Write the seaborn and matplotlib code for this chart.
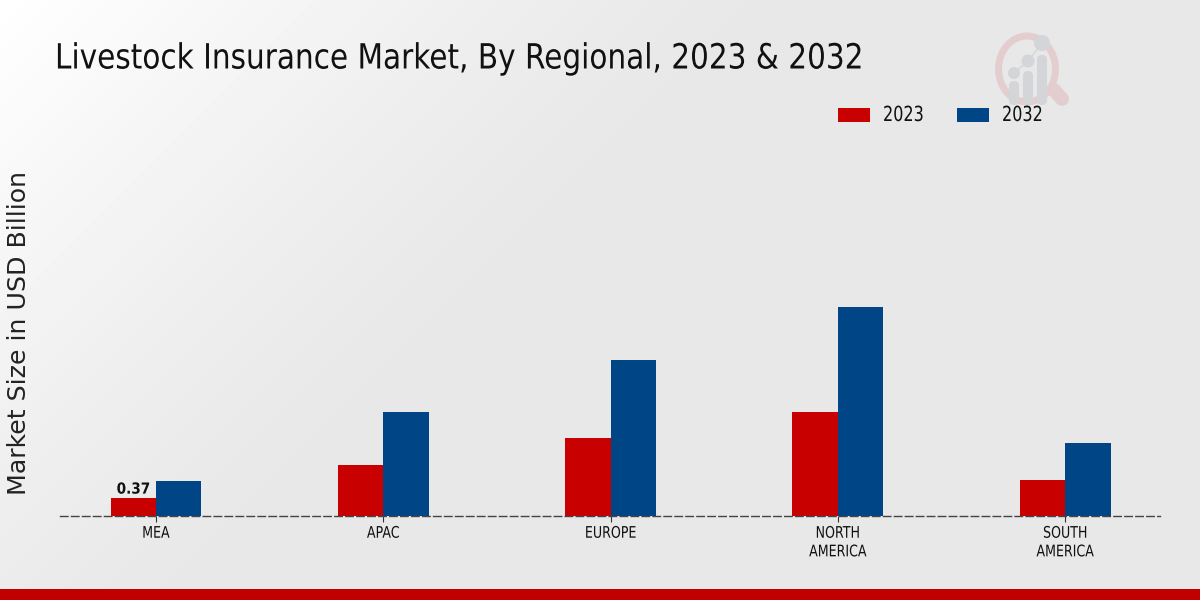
import matplotlib
matplotlib.use("Agg")
import matplotlib.pyplot as plt
from matplotlib.patches import Circle, Ellipse, FancyBboxPatch, Rectangle
from matplotlib.patheffects import AbstractPathEffect
from matplotlib.transforms import Affine2D
import numpy as np
import pandas as pd
import seaborn as sns

regioes = ["MEA", "APAC", "EUROPE", "NORTH\nAMERICA", "SOUTH\nAMERICA"]
valores_2023 = [0.37, 1.05, 1.60, 2.14, 0.74]
valores_2032 = [0.72, 2.14, 3.22, 4.30, 1.50]
anos = ["2023", "2032"]
cores = ["#C80000", "#004687"]

sns.set_style("white")
plt.rcParams["font.family"] = ["DejaVu Sans"]


# texto do original é comprimido na horizontal
class Aperta(AbstractPathEffect):
    def __init__(self, x0, fator):
        super().__init__()
        self.x0 = x0
        self.fator = fator

    def draw_path(self, renderer, gc, tpath, affine, rgbFace=None):
        ajuste = Affine2D().translate(-self.x0, 0).scale(self.fator, 1).translate(self.x0, 0)
        renderer.draw_path(gc, tpath, affine + ajuste, rgbFace)


dados = pd.DataFrame({
    "Regiao": regioes * 2,
    "Ano": [anos[0]] * 5 + [anos[1]] * 5,
    "Valor": valores_2023 + valores_2032,
})

fig = plt.figure(figsize=(12, 6), dpi=100)

# fundo com gradiente
fundo = fig.add_axes([0, 0, 1, 1], zorder=0)
yy, xx = np.mgrid[0:600, 0:1200]
dist = np.clip((xx + yy) / 750, 0, 1)
cinza = 0.91 + 0.09 * (1 - dist) ** 1.2
fundo.imshow(cinza, cmap="gray", vmin=0, vmax=1, aspect="auto",
             extent=(0, 1200, 600, 0))
fundo.add_patch(Rectangle((0, 589), 1200, 11, color="#C00000", lw=0))

# logo
fundo.add_patch(Ellipse((1027, 69), 57, 66, fill=False, ec="#E3CDCF", lw=5))
fundo.plot([1054, 1062], [90, 99], color="#E3CDCF", lw=10, solid_capstyle="round")
for cx, cy, r, topo in [(1014, 73, 6, 81), (1028, 61, 6.5, 71), (1042, 43, 8, 55)]:
    fundo.add_patch(FancyBboxPatch((cx - 5, topo), 10, 105 - topo,
                                   boxstyle="round,pad=0,rounding_size=5",
                                   color="#D3D5D8", lw=0))
    fundo.add_patch(Circle((cx, cy), r, color="#D3D5D8", lw=0))
fundo.plot([1014, 1028, 1042], [73, 61, 43], color="#D3D5D8", lw=1)
fundo.set_xlim(0, 1200)
fundo.set_ylim(600, 0)
fundo.axis("off")

# barras
ax = fig.add_axes([60 / 1200, 1 - 516 / 600, 1100 / 1200, 416 / 600], zorder=1)
ax.patch.set_alpha(0)
sns.barplot(
    data=dados,
    x="Regiao",
    y="Valor",
    hue="Ano",
    palette=cores,
    width=0.4,
    gap=0,
    saturation=1,
    errorbar=None,
    legend=False,
    linewidth=0,
    ax=ax
)
ax.set_xlim(-0.4223, 4.4167)
ax.set_ylim(0, 416 / 48.6)
ax.set_xlabel("")
ax.set_ylabel("")
ax.set_yticks([])
ax.tick_params(axis="x", length=4, width=0.8, color="#333333", pad=3,
               labelsize=11.5, labelcolor="#111111", bottom=True)
for i, rotulo in enumerate(ax.get_xticklabels()):
    rotulo.set_linespacing(1.3)
    x_pixel = ax.transData.transform((i, 0))[0]
    rotulo.set_path_effects([Aperta(x_pixel, 0.79)])
for lado in ["top", "left", "right"]:
    ax.spines[lado].set_visible(False)
ax.spines["bottom"].set_linestyle((0, (5.4, 2.5)))
ax.spines["bottom"].set_color("#444444")
ax.spines["bottom"].set_linewidth(1.0)
ax.spines["bottom"].set_zorder(5)

# rótulo só no primeiro grupo
textos = ax.bar_label(ax.containers[0], labels=["0.37", "", "", "", ""],
                      fontsize=11, fontweight="bold", color="#111111", padding=1)
textos[0].set_path_effects([Aperta(134, 0.89)])

# título, eixo y e legenda
titulo = fig.text(55 / 1200, 1 - 58.5 / 600, "Livestock Insurance Market, By Regional, 2023 & 2032",
                  fontsize=25, va="center", ha="left", color="#111111", zorder=3)
titulo.set_path_effects([Aperta(55, 0.851)])
fig.text(19.5 / 1200, 1 - 333 / 600, "Market Size in USD Billion", rotation=90,
         fontsize=18.2, va="center", ha="center", color="#222222", zorder=3)

for x0, cor, ano in zip([838, 957], cores, anos):
    fundo.add_patch(Rectangle((x0, 108), 32, 14, color=cor, lw=0))
    legenda = fundo.text(x0 + 45, 115, ano, fontsize=15, va="center", ha="left", color="#111111")
    legenda.set_path_effects([Aperta(x0 + 45, 0.77)])

fig.savefig("out.png", dpi=100)
